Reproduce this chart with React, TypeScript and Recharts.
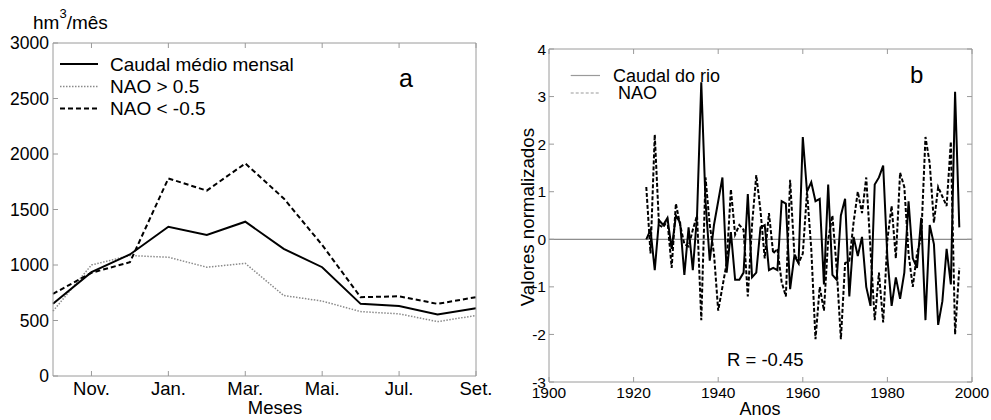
import React from 'react';
import { LineChart, Line, XAxis, YAxis, ReferenceLine, Legend } from 'recharts';

const FONT = '"Liberation Sans", Arial, Helvetica, sans-serif';
const AXIS = '#9a9a9a';

// ---------- Panel a data ----------
const monthIndex = [0, 1, 2, 3, 4, 5, 6, 7, 8, 9, 10, 11];
const monthTicks = [1, 3, 5, 7, 9, 11];
const monthTickLabels = ['Nov.', 'Jan.', 'Mar.', 'Mai.', 'Jul.', 'Set.'];
const caudalMedio = [650, 935, 1095, 1345, 1270, 1390, 1145, 980, 650, 630, 555, 610];
const naoPositivo = [585, 1000, 1085, 1070, 980, 1015, 725, 675, 580, 560, 490, 545];
const naoNegativo = [740, 930, 1025, 1780, 1670, 1915, 1600, 1180, 710, 718, 650, 710];
const flowTicks = [0, 500, 1000, 1500, 2000, 2500, 3000];

// ---------- Panel b data ----------
const firstYear = 1923;
const caudalRio = [
  0.0, 0.2, -0.65, 0.4, 0.3, 0.45, -0.2, 0.5, 0.35, -0.75,
  0.25, -0.65, 0.5, 3.3, 0.8, -0.45, 0.3, 0.8, 1.3, -0.7,
  0.15, -0.85, -0.85, -0.7, 0.95, -0.8, -0.7, 0.25, 0.3, -0.65,
  -0.6, -0.65, 0.8, 0.75, -1.05, -0.35, -0.5, 2.15, 1.0, 1.2,
  0.8, 0.85, -0.95, 1.15, -0.75, -0.85, 0.5, 0.85, -1.2, 0.05,
  -0.35, 0.05, -1.0, -1.4, 1.15, 1.3, 1.55, -0.4, -1.4, -0.8,
  -1.25, -0.7, 0.8, -0.4, -0.6, 0.45, -1.7, 0.3, -0.1, -1.8,
  -1.3, -0.2, -0.95, 3.1, 0.25,
];
const naoIndex = [
  1.1, -0.3, 2.2, 0.3, 0.25, 0.4, -0.6, 0.75, 0.3, -0.1,
  -0.15, 0.2, 0.5, -1.7, 1.3, 0.3, -0.3, -1.5, -1.0, -0.5,
  1.05, 0.1, 0.3, 0.2, -1.2, 0.3, 1.35, 0.6, -0.4, 0.55,
  -0.3, -0.2, -0.9, -1.2, 1.25, -0.3, -0.5, -0.3, 1.0, -0.2,
  -2.1, -1.0, -1.5, 0.0, 0.5, -0.6, -2.1, -0.5, -0.45, 0.35,
  1.0, 0.55, 1.3, -0.2, -1.7, -0.7, -1.75, 0.0, 0.7, -0.4,
  1.4, 1.1, -0.3, -1.0, -0.3, 0.05, 2.15, 1.6, 0.35, 1.1,
  0.9, 0.7, 2.05, -2.0, -0.6,
];
const yearTicks = [1900, 1920, 1940, 1960, 1980, 2000];
const normTicks = [-3, -2, -1, 0, 1, 2, 3, 4];

const dataA = monthIndex.map((m, i) => ({
  m,
  caudal: caudalMedio[i],
  pos: naoPositivo[i],
  neg: naoNegativo[i],
}));

const dataB = caudalRio.map((v, i) => ({
  year: firstYear + i,
  caudal: v,
  nao: naoIndex[i],
}));

// ---------- tick renderers ----------
const makeLeftTick = (fontSize: number, gap: number, len: number) => (props: any) => {
  const { x, y, payload } = props;
  return (
    <g>
      <line x1={x} x2={x + len} y1={y} y2={y} stroke={AXIS} strokeWidth={1} />
      <text x={x - gap} y={y} dy={fontSize * 0.36} textAnchor="end" fontSize={fontSize} fill="#000" fontFamily={FONT}>
        {payload.value}
      </text>
    </g>
  );
};
const makeRightTick = (len: number) => (props: any) => {
  const { x, y } = props;
  return <line x1={x} x2={x - len} y1={y} y2={y} stroke={AXIS} strokeWidth={1} />;
};
const makeBottomTick = (fontSize: number, dyBase: number, len: number, fmt: (v: number) => string) => (props: any) => {
  const { x, y, payload } = props;
  return (
    <g>
      <line x1={x} x2={x} y1={y} y2={y - len} stroke={AXIS} strokeWidth={1} />
      <text x={x} y={y + dyBase} textAnchor="middle" fontSize={fontSize} fill="#000" fontFamily={FONT}>
        {fmt(payload.value)}
      </text>
    </g>
  );
};
const makeTopTick = (len: number) => (props: any) => {
  const { x, y } = props;
  return <line x1={x} x2={x} y1={y} y2={y + len} stroke={AXIS} strokeWidth={1} />;
};

// ---------- HTML text helper ----------
const Txt = ({ x, y, size, anchor = 'start', rotate = 0, children }: any) => {
  const tx = anchor === 'middle' ? '-50%' : anchor === 'end' ? '-100%' : '0';
  return (
    <div
      style={{
        position: 'absolute',
        left: x,
        top: y - size * 0.49,
        fontSize: size,
        lineHeight: 1,
        fontFamily: FONT,
        color: '#000',
        whiteSpace: 'nowrap',
        transform: rotate ? `translate(-50%, 0) rotate(${rotate}deg)` : `translateX(${tx})`,
        transformOrigin: rotate ? '50% 49%' : undefined,
      }}
    >
      {children}
    </div>
  );
};

type LegendRow = { label: string; color: string; dash?: string; width: number; y: number; textX: number };

const legendRender = (rows: LegendRow[], lineX1: number, lineX2: number, fontSize: number) => () => (
  <div style={{ position: 'relative', width: 500, height: 140 }}>
    <svg width={500} height={140} style={{ position: 'absolute', left: 0, top: 0 }}>
      {rows.map((r) => (
        <line
          key={r.label}
          x1={lineX1}
          x2={lineX2}
          y1={r.y}
          y2={r.y}
          stroke={r.color}
          strokeWidth={r.width}
          strokeDasharray={r.dash}
        />
      ))}
    </svg>
    {rows.map((r) => (
      <div
        key={r.label + 't'}
        style={{
          position: 'absolute',
          left: r.textX,
          top: r.y - fontSize * 0.49,
          fontSize,
          lineHeight: 1,
          fontFamily: FONT,
          color: '#000',
          whiteSpace: 'nowrap',
        }}
      >
        {r.label}
      </div>
    ))}
  </div>
);

const legendA: LegendRow[] = [
  { label: 'Caudal médio mensal', color: '#000', width: 2, y: 64, textX: 110 },
  { label: 'NAO > 0.5', color: '#8a8a8a', width: 1.5, dash: '1.5 1.5', y: 86.5, textX: 110 },
  { label: 'NAO < -0.5', color: '#000', width: 2, dash: '5 3', y: 108.5, textX: 110 },
];
const legendB: LegendRow[] = [
  { label: 'Caudal do rio', color: '#9a9a9a', width: 1.2, y: 75.5, textX: 113 },
  { label: 'NAO', color: '#9a9a9a', width: 1.2, dash: '3 2', y: 93, textX: 118 },
];

export default function App() {
  return (
    <div
      style={{
        position: 'absolute',
        left: 0,
        top: 0,
        width: 991,
        height: 420,
        background: '#fff',
        overflow: 'hidden',
        fontFamily: FONT,
      }}
    >
      {/* Panel a */}
      <div style={{ position: 'absolute', left: 0, top: 0 }}>
        <LineChart width={500} height={420} data={dataA} margin={{ top: 42, right: 23, bottom: 43, left: 52 }}>
          <XAxis
            xAxisId="b"
            dataKey="m"
            type="number"
            domain={[0, 11]}
            ticks={monthTicks}
            height={1}
            tickSize={0}
            tickMargin={0}
            tickLine={false}
            axisLine={{ stroke: AXIS }}
            interval={0}
            tick={makeBottomTick(18.5, 18.6, 5, (v) => monthTickLabels[monthTicks.indexOf(v)])}
          />
          <XAxis
            xAxisId="t"
            dataKey="m"
            type="number"
            orientation="top"
            domain={[0, 11]}
            ticks={monthTicks}
            height={1}
            tickSize={0}
            tickMargin={0}
            tickLine={false}
            axisLine={{ stroke: AXIS }}
            interval={0}
            tick={makeTopTick(5)}
          />
          <YAxis
            yAxisId="l"
            type="number"
            domain={[0, 3000]}
            ticks={flowTicks}
            width={1}
            tickSize={0}
            tickMargin={0}
            tickLine={false}
            axisLine={{ stroke: AXIS }}
            interval={0}
            tick={makeLeftTick(17.5, 4, 5)}
          />
          <YAxis
            yAxisId="r"
            orientation="right"
            type="number"
            domain={[0, 3000]}
            ticks={flowTicks}
            width={1}
            tickSize={0}
            tickMargin={0}
            tickLine={false}
            axisLine={{ stroke: AXIS }}
            interval={0}
            tick={makeRightTick(5)}
          />
          <Legend
            layout="vertical"
            align="center"
            verticalAlign="middle"
            wrapperStyle={{ left: 0, top: 0, width: 500, height: 140 }}
            content={legendRender(legendA, 60, 98, 19)}
          />
          <Line xAxisId="b" yAxisId="l" dataKey="pos" stroke="#8a8a8a" strokeWidth={1.5} strokeDasharray="1.5 1.5" dot={false} isAnimationActive={false} />
          <Line xAxisId="b" yAxisId="l" dataKey="neg" stroke="#000" strokeWidth={2} strokeDasharray="5 3" dot={false} isAnimationActive={false} />
          <Line xAxisId="b" yAxisId="l" dataKey="caudal" stroke="#000" strokeWidth={2} dot={false} isAnimationActive={false} />
        </LineChart>
      </div>

      {/* Panel b */}
      <div style={{ position: 'absolute', left: 500, top: 0 }}>
        <LineChart width={491} height={420} data={dataB} margin={{ top: 48, right: 18, bottom: 37, left: 48 }}>
          <XAxis
            xAxisId="b"
            dataKey="year"
            type="number"
            domain={[1900, 2000]}
            ticks={yearTicks}
            height={1}
            tickSize={0}
            tickMargin={0}
            tickLine={false}
            axisLine={{ stroke: AXIS }}
            interval={0}
            tick={makeBottomTick(15.5, 16.2, 5, (v) => String(v))}
          />
          <XAxis
            xAxisId="t"
            dataKey="year"
            type="number"
            orientation="top"
            domain={[1900, 2000]}
            ticks={yearTicks}
            height={1}
            tickSize={0}
            tickMargin={0}
            tickLine={false}
            axisLine={{ stroke: AXIS }}
            interval={0}
            tick={makeTopTick(5)}
          />
          <YAxis
            yAxisId="l"
            type="number"
            domain={[-3, 4]}
            ticks={normTicks}
            width={1}
            tickSize={0}
            tickMargin={0}
            tickLine={false}
            axisLine={{ stroke: AXIS }}
            interval={0}
            allowDataOverflow
            tick={makeLeftTick(15.5, 3, 5)}
          />
          <YAxis
            yAxisId="r"
            orientation="right"
            type="number"
            domain={[-3, 4]}
            ticks={normTicks}
            width={1}
            tickSize={0}
            tickMargin={0}
            tickLine={false}
            axisLine={{ stroke: AXIS }}
            interval={0}
            allowDataOverflow
            tick={makeRightTick(5)}
          />
          <ReferenceLine xAxisId="b" yAxisId="l" y={0} stroke="#707070" strokeWidth={1} />
          <Legend
            layout="vertical"
            align="center"
            verticalAlign="middle"
            wrapperStyle={{ left: 0, top: 0, width: 491, height: 140 }}
            content={legendRender(legendB, 70.7, 100, 18)}
          />
          <Line xAxisId="b" yAxisId="l" dataKey="nao" stroke="#000" strokeWidth={2} strokeDasharray="4 2" dot={false} isAnimationActive={false} />
          <Line xAxisId="b" yAxisId="l" dataKey="caudal" stroke="#000" strokeWidth={2} dot={false} isAnimationActive={false} />
        </LineChart>
      </div>

      {/* Texts */}
      <Txt x={33} y={22} size={19}>
        hm<sup style={{ fontSize: 13, verticalAlign: 'top', position: 'relative', top: -6 }}>3</sup>/mês
      </Txt>
      <Txt x={399} y={78} size={25}>a</Txt>
      <Txt x={910} y={75} size={24}>b</Txt>
      <Txt x={275} y={408} size={18.5} anchor="middle">Meses</Txt>
      <Txt x={760} y={409} size={18} anchor="middle">Anos</Txt>
      <Txt x={727} y={360} size={18.5}>R = -0.45</Txt>
      <Txt x={528} y={217} size={18.7} rotate={-90}>Valores normalizados</Txt>
    </div>
  );
}
